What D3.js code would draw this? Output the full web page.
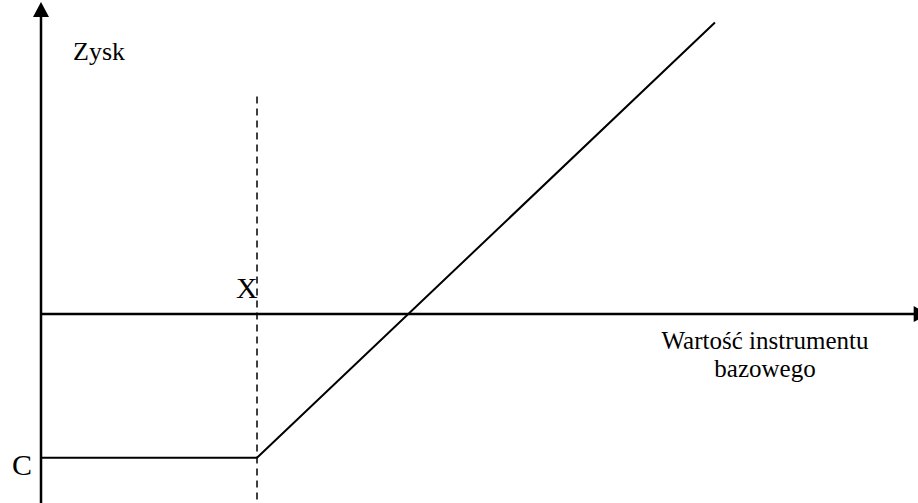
<!DOCTYPE html>
<html>
<head>
<meta charset="utf-8">
<script src="https://cdn.jsdelivr.net/npm/d3@7"></script>
<style>
  body { margin: 0; background: #fff; }
  text { font-family: "Liberation Serif", "Times New Roman", serif; fill: #000; }
</style>
</head>
<body>
<div id="chart"></div>
<script>
var width = 918,
  height = 503;

// payoff of a long call: underlying value -> profit
var underlying = [0, 50, 156];
var profit = [-35, -35, 71];
var strike = 50;
var premium = -35;
var xMax = 202, yMin = -46, yMax = 76;
var dashTop = 53;

var axisLabels = { y: "Zysk", x: ["Wartość instrumentu", "bazowego"], strike: "X", premium: "C" };

var svg = d3.select("#chart").append("svg").attr("width", width).attr("height", height);

var x = d3.scaleLinear().domain([0, 203]).range([41, 918]);
var y = d3.scaleLinear().domain([yMin, yMax]).range([height, 2]);

// axes
svg.append("line")
  .attr("x1", x(0)).attr("x2", x(0))
  .attr("y1", y(yMin)).attr("y2", y(yMax) + 10)
  .attr("stroke", "#000").attr("stroke-width", 2.5);
svg.append("path")
  .attr("d", "M" + x(0) + "," + y(yMax) + "L" + (x(0) - 8) + "," + (y(yMax) + 15) + "L" + (x(0) + 8) + "," + (y(yMax) + 15) + "Z")
  .attr("fill", "#000");

svg.append("line")
  .attr("x1", x(0)).attr("x2", x(xMax) + 5)
  .attr("y1", y(0)).attr("y2", y(0))
  .attr("stroke", "#000").attr("stroke-width", 2.5);
svg.append("path")
  .attr("d", "M" + (x(xMax) + 15) + "," + y(0) + "L" + x(xMax) + "," + (y(0) - 8) + "L" + x(xMax) + "," + (y(0) + 8) + "Z")
  .attr("fill", "#000");

// strike dashed line
svg.append("line")
  .attr("x1", x(strike)).attr("x2", x(strike))
  .attr("y1", y(dashTop)).attr("y2", y(yMin))
  .attr("stroke", "#000").attr("stroke-width", 1.5)
  .attr("stroke-dasharray", "7,5");

// payoff line
var line = d3.line()
  .x(function (d, i) { return x(underlying[i]); })
  .y(function (d, i) { return y(profit[i]); });

svg.append("path")
  .datum(profit)
  .attr("d", line)
  .attr("fill", "none")
  .attr("stroke", "#000")
  .attr("stroke-width", 2);

// labels
svg.append("text").attr("x", 73).attr("y", 60).style("font-size", "26px").text(axisLabels.y);

svg.append("text")
  .attr("x", x(strike) - 21).attr("y", y(0) - 16)
  .style("font-size", "30px").text(axisLabels.strike);

svg.append("text")
  .attr("x", 12).attr("y", y(premium) + 17)
  .style("font-size", "30px").text(axisLabels.premium);

// two-line x-axis title
svg.append("g")
  .selectAll("text")
  .data(axisLabels.x)
  .enter()
  .append("text")
  .attr("x", 765)
  .attr("y", function (d, i) { return 349 + i * 28; })
  .attr("text-anchor", "middle")
  .style("font-size", "25px")
  .text(function (d) { return d; });
</script>
</body>
</html>
